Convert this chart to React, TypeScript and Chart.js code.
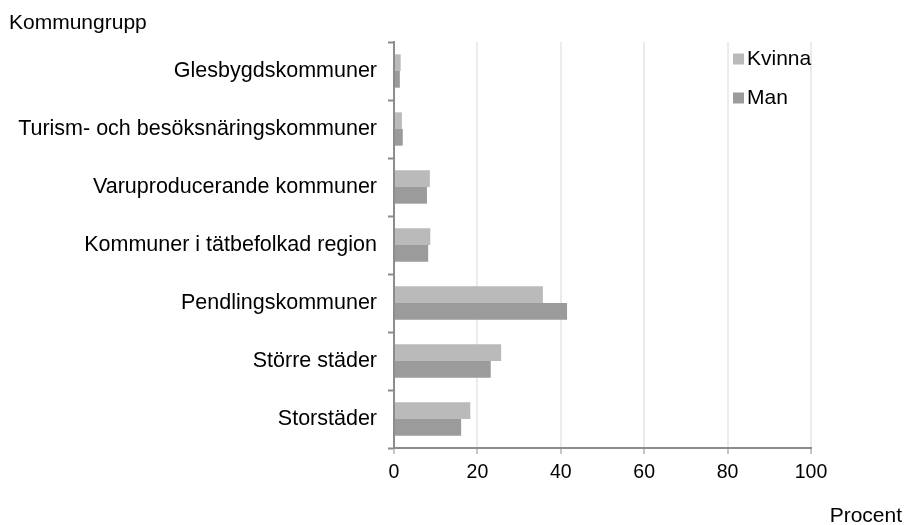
import React, { useEffect, useRef } from "react";
import { Chart, registerables } from "chart.js";

Chart.register(...registerables);

const categories = [
  "Glesbygdskommuner",
  "Turism- och besöksnäringskommuner",
  "Varuproducerande kommuner",
  "Kommuner i tätbefolkad region",
  "Pendlingskommuner",
  "Större städer",
  "Storstäder",
];
const kvinna = [1.6, 1.9, 8.6, 8.7, 35.7, 25.7, 18.3];
const man = [1.4, 2.1, 7.9, 8.2, 41.5, 23.2, 16.1];
const xTicks = [0, 20, 40, 60, 80, 100];

const FONT = "'Liberation Sans', Arial, sans-serif";
const KV_COLOR = "#bababa";
const MAN_COLOR = "#9b9b9b";

const extrasPlugin = {
  id: "extras",
  afterDraw(chart: any) {
    const ctx = chart.ctx;
    const area = chart.chartArea;
    ctx.save();
    ctx.font = `21px ${FONT}`;
    ctx.fillStyle = "#000";
    ctx.textBaseline = "middle";
    ctx.textAlign = "left";
    ctx.fillText("Kommungrupp", 9, 23);
    ctx.textAlign = "right";
    ctx.fillText("Procent", 902, 516);
    // legend
    const items = [
      { label: "Kvinna", color: KV_COLOR },
      { label: "Man", color: MAN_COLOR },
    ];
    const lx = area.right - 78;
    items.forEach((it, i) => {
      const cy = area.top + 17 + i * 39;
      ctx.fillStyle = it.color;
      ctx.fillRect(lx, cy - 5.5, 11, 11);
      ctx.fillStyle = "#000";
      ctx.textAlign = "left";
      ctx.fillText(it.label, lx + 14, cy);
    });
    ctx.restore();
  },
};

export default function App() {
  const ref = useRef<HTMLCanvasElement>(null);
  useEffect(() => {
    document.body.style.margin = "0";
    const chart = new Chart(ref.current!, {
      type: "bar",
      data: {
        labels: categories,
        datasets: [
          { label: "Kvinna", data: kvinna, backgroundColor: KV_COLOR, categoryPercentage: 0.575, barPercentage: 1 },
          { label: "Man", data: man, backgroundColor: MAN_COLOR, categoryPercentage: 0.575, barPercentage: 1 },
        ],
      },
      options: {
        indexAxis: "y",
        animation: false,
        responsive: false,
        maintainAspectRatio: false,
        layout: { padding: { top: 42, right: 93, left: 0, bottom: 0 } },
        plugins: { legend: { display: false }, tooltip: { enabled: false } },
        scales: {
          x: {
            min: 0,
            max: 100,
            afterBuildTicks: (s: any) => {
              s.ticks = xTicks.map((v) => ({ value: v }));
            },
            afterFit: (s: any) => {
              s.height = 77;
            },
            ticks: { color: "#000", font: { family: FONT, size: 19.5 }, padding: 7 },
            grid: {
              color: (c: any) => (c.tick && c.tick.value === 0 ? "rgba(0,0,0,0)" : "#ebebeb"),
              lineWidth: 2,
              tickColor: "#8c8c8c",
              tickLength: 6,
              tickWidth: 1,
            },
            border: { display: true, color: "#8c8c8c", width: 2 },
          },
          y: {
            afterFit: (s: any) => {
              s.width = 394;
            },
            ticks: { color: "#000", font: { family: FONT, size: 21.5 }, padding: 11 },
            grid: {
              offset: true,
              drawOnChartArea: false,
              drawTicks: true,
              tickLength: 6,
              tickColor: "#8c8c8c",
              tickWidth: 2,
            },
            border: { display: true, color: "#8c8c8c", width: 2 },
          },
        },
      },
      plugins: [extrasPlugin],
    });
    return () => chart.destroy();
  }, []);
  return (
    <div style={{ width: 904, height: 525, background: "#fff" }}>
      <canvas ref={ref} width={904} height={525} style={{ display: "block" }} />
    </div>
  );
}
